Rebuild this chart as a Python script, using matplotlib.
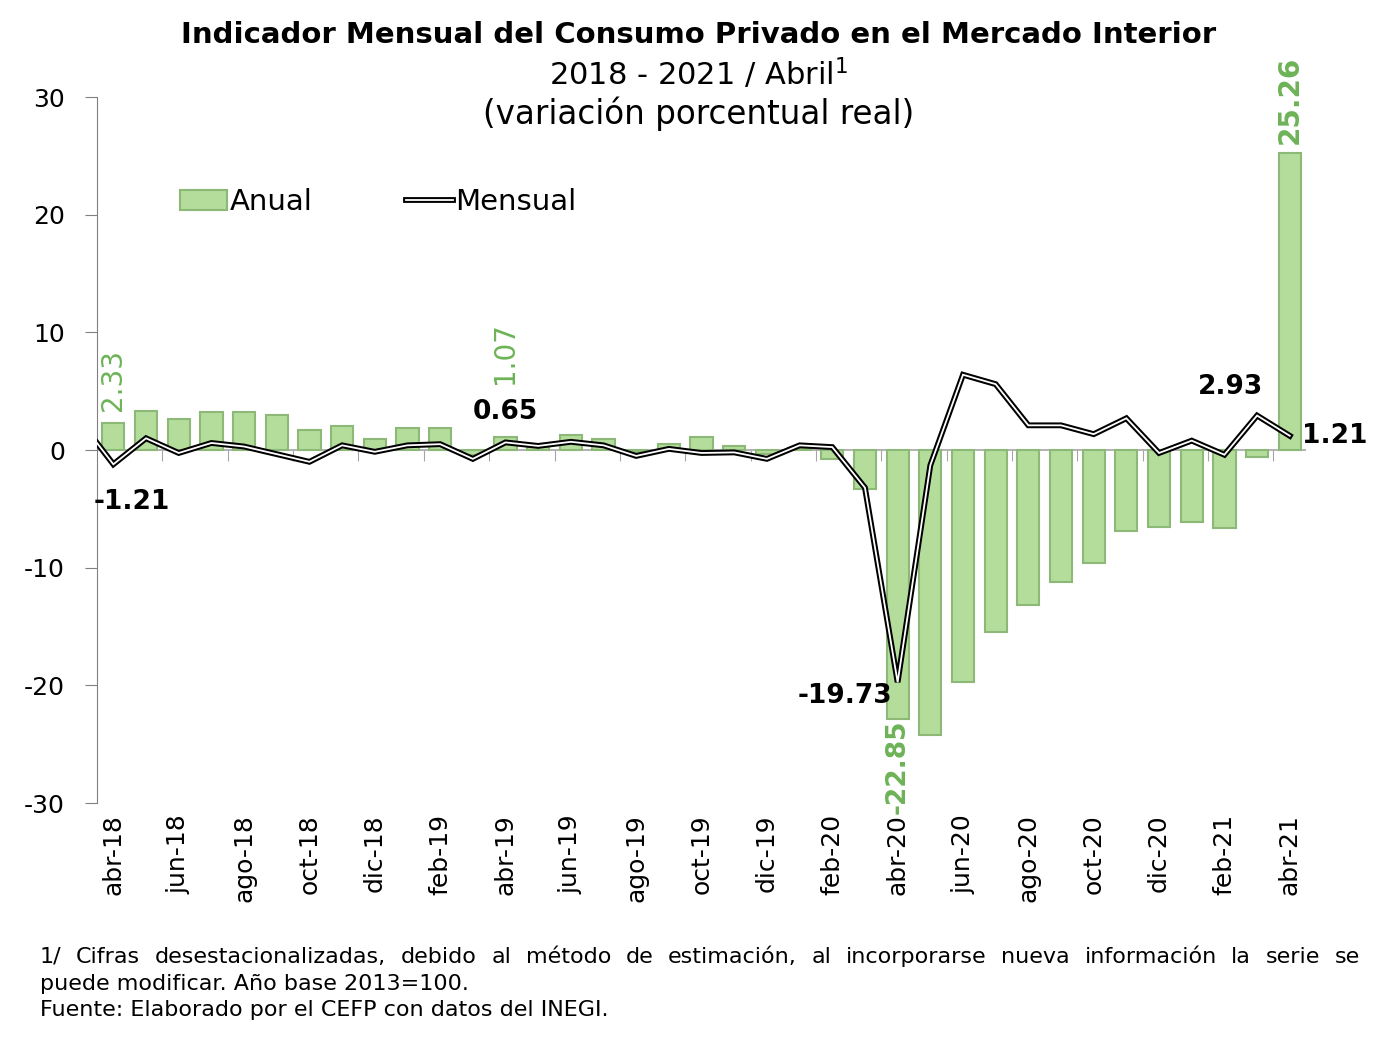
import numpy as np
import matplotlib
matplotlib.use("Agg")
import matplotlib.pyplot as plt
import matplotlib.patheffects as pe
from matplotlib.lines import Line2D
from matplotlib.patches import Patch

plt.rcParams["axes.unicode_minus"] = False

# months abr-18 .. abr-21
months = ["abr-18", "may-18", "jun-18", "jul-18", "ago-18", "sep-18", "oct-18",
          "nov-18", "dic-18", "ene-19", "feb-19", "mar-19", "abr-19", "may-19",
          "jun-19", "jul-19", "ago-19", "sep-19", "oct-19", "nov-19", "dic-19",
          "ene-20", "feb-20", "mar-20", "abr-20", "may-20", "jun-20", "jul-20",
          "ago-20", "sep-20", "oct-20", "nov-20", "dic-20", "ene-21", "feb-21",
          "mar-21", "abr-21"]

anual = [2.33, 3.3, 2.6, 3.25, 3.2, 3.0, 1.7, 2.05, 0.9, 1.9, 1.85, -0.4,
         1.07, 0.3, 1.3, 0.9, -0.2, 0.5, 1.1, 0.35, -0.3, 0.2, -0.8, -3.3,
         -22.85, -24.2, -19.7, -15.5, -13.2, -11.2, -9.6, -6.9, -6.5, -6.1,
         -6.6, -0.6, 25.26]

# monthly series also has mar-18 (partly visible at the axis edge)
mensual = [2.4, -1.21, 1.0, -0.25, 0.6, 0.3, -0.35, -1.0, 0.4, -0.15, 0.4,
           0.5, -0.75, 0.65, 0.35, 0.7, 0.4, -0.5, 0.1, -0.25, -0.2, -0.75,
           0.4, 0.25, -3.2, -19.73, -1.3, 6.4, 5.6, 2.1, 2.1, 1.35, 2.7,
           -0.25, 0.8, -0.4, 2.93, 1.21]

tick_pos = list(range(0, 37, 2))
tick_labels = [months[i] for i in tick_pos]

green_bar = "#b4dd9b"
green_edge = "#8db978"
green_txt = "#6db356"

fig = plt.figure(figsize=(13.88, 10.39), dpi=100)
ax = fig.add_axes([0.0699, 0.2271, 0.8711, 0.6795])

x = np.arange(len(anual))
xm = np.arange(len(mensual)) - 1

ax.bar(x, anual, width=0.68, color=green_bar, edgecolor=green_edge,
       linewidth=1.5, zorder=2)
ax.axhline(0, color="#a6a6a6", linewidth=1.2, zorder=1)
ax.plot(xm, mensual, color="black", linewidth=4.2, zorder=4,
        solid_joinstyle="miter")
ax.plot(xm, mensual, color="white", linewidth=1.3, zorder=5,
        solid_joinstyle="miter")

ax.set_xlim(-0.5, 36.5)
ax.set_ylim(-30, 30)
ax.set_yticks([-30, -20, -10, 0, 10, 20, 30])
ax.tick_params(axis="y", labelsize=18, length=9, color="#808080",
               direction="out", pad=14)
ax.set_xticks(tick_pos)
ax.set_xticklabels(tick_labels, rotation=90, fontsize=18)
ax.tick_params(axis="x", length=0, pad=8)
for s in ["top", "right", "bottom"]:
    ax.spines[s].set_visible(False)
ax.spines["left"].set_color("#808080")

# category boundary ticks hanging below the zero line
bounds = np.arange(1.5, 36, 2)
sec = ax.secondary_xaxis(0.5)
sec.set_alignment("bottom")
sec.set_xticks(bounds, labels=[""] * len(bounds))
sec.tick_params(axis="x", length=8, color="#a6a6a6", direction="out")
for s in sec.spines.values():
    s.set_visible(False)

# data labels
ax.text(0, 3.3, "2.33", rotation=90, ha="center", va="bottom",
        color=green_txt, fontsize=20)
ax.text(12, 5.6, "1.07", rotation=90, ha="center", va="bottom",
        color=green_txt, fontsize=20)
ax.text(24, -22.9, "-22.85", rotation=90, ha="center", va="top",
        color=green_txt, fontsize=19, fontweight="bold")
ax.text(36, 26.0, "25.26", rotation=90, ha="center", va="bottom",
        color=green_txt, fontsize=20, fontweight="bold")

ax.text(0.55, -4.4, "-1.21", ha="center", va="center", fontsize=19,
        fontweight="bold")
ax.text(12, 3.2, "0.65", ha="center", va="center", fontsize=19,
        fontweight="bold")
ax.text(23.85, -20.9, "-19.73", ha="right", va="center", fontsize=19,
        fontweight="bold")
ax.text(34.2, 5.35, "2.93", ha="center", va="center", fontsize=19,
        fontweight="bold")
ax.text(36.37, 1.2, "1.21", ha="left", va="center", fontsize=19,
        fontweight="bold")

handles = [Patch(facecolor=green_bar, edgecolor=green_edge, linewidth=1.5),
           Line2D([], [], color="black", linewidth=4.2,
                  path_effects=[pe.Stroke(linewidth=4.2, foreground="black"),
                                pe.Stroke(linewidth=1.3, foreground="white")])]
ax.legend(handles, ["Anual", "Mensual"], ncol=2, frameon=False,
          loc="center left", bbox_to_anchor=(0.047, 0.851), fontsize=21,
          handlelength=1.6, handletextpad=0.1, columnspacing=3.2)

fig.text(0.503, 0.966, "Indicador Mensual del Consumo Privado en el Mercado Interior",
         ha="center", va="center", fontsize=21, fontweight="bold")
fig.text(0.503, 0.929, "2018 - 2021 / Abril$^1$", ha="center", va="center",
         fontsize=22)
fig.text(0.503, 0.891, "(variación porcentual real)", ha="center",
         va="center", fontsize=23.5)

# footnote, first line justified to the chart width
foot1 = ("1/ Cifras desestacionalizadas, debido al método de estimación, al "
         "incorporarse nueva información la serie se")
foot_rest = ["puede modificar. Año base 2013=100.",
             "Fuente: Elaborado por el CEFP con datos del INEGI."]
x0, x1 = 40 / 1388, 1360 / 1388
y_lines = [1 - 957 / 1039, 1 - 984 / 1039, 1 - 1010 / 1039]
words = foot1.split(" ")
renderer = fig.canvas.get_renderer()
objs = [fig.text(0, y_lines[0], w, fontsize=16, va="center", ha="left")
        for w in words]
widths = [o.get_window_extent(renderer).width / fig.bbox.width for o in objs]
gap = (x1 - x0 - sum(widths)) / (len(words) - 1)
pos = x0
for o, w in zip(objs, widths):
    o.set_x(pos)
    pos += w + gap
for t, yy in zip(foot_rest, y_lines[1:]):
    fig.text(x0, yy, t, fontsize=16, va="center", ha="left")

fig.savefig("out.png", dpi=100)
